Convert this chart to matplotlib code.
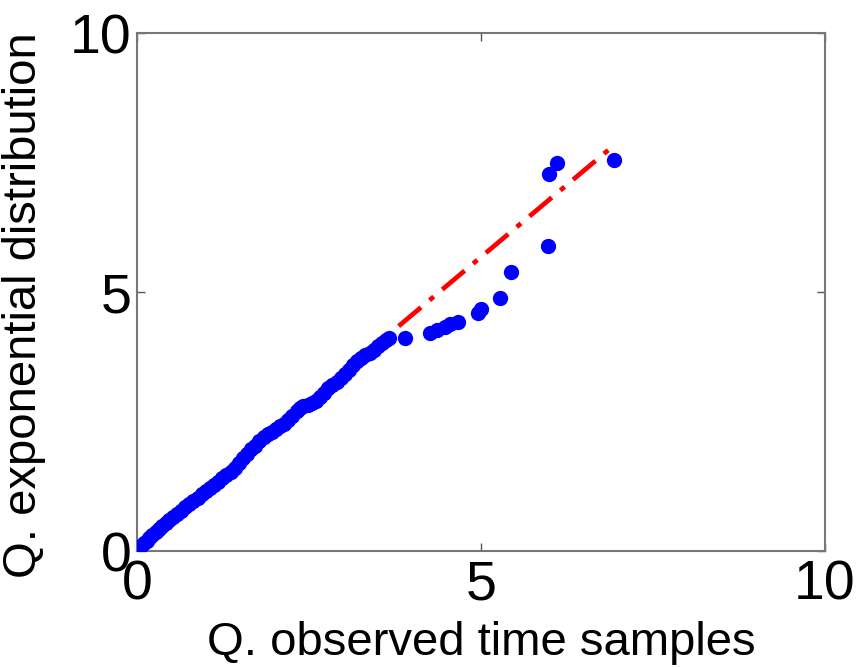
import matplotlib
matplotlib.use("Agg")
import matplotlib.pyplot as plt

# quantiles: observed (x) vs exponential (y)
obs_q = [0.00, 0.03, 0.06, 0.10, 0.14, 0.18, 0.22, 0.27, 0.32, 0.37, 0.42, 0.47,
         0.52, 0.58, 0.64, 0.70, 0.76, 0.82, 0.88, 0.94, 1.00, 1.06, 1.12, 1.18,
         1.24, 1.30, 1.36, 1.42, 1.48, 1.54, 1.60, 1.66, 1.72, 1.78, 1.84, 1.90,
         1.96, 2.02, 2.08, 2.14, 2.20, 2.26, 2.32, 2.37, 2.42, 2.48, 2.54, 2.60,
         2.66, 2.72, 2.78, 2.84, 2.90, 2.96, 3.02, 3.08, 3.14, 3.20, 3.26, 3.32,
         3.38, 3.44, 3.50, 3.56, 3.62, 3.67, 3.90, 4.26, 4.36, 4.48, 4.55, 4.67,
         4.96, 5.00, 5.28, 5.44, 5.98, 5.99, 6.10, 6.94]
exp_q = [0.02, 0.06, 0.10, 0.15, 0.20, 0.25, 0.30, 0.36, 0.42, 0.48, 0.54, 0.60,
         0.65, 0.71, 0.78, 0.84, 0.91, 0.97, 1.03, 1.10, 1.16, 1.22, 1.28, 1.34,
         1.40, 1.46, 1.53, 1.60, 1.69, 1.79, 1.88, 1.96, 2.03, 2.12, 2.20, 2.25,
         2.30, 2.35, 2.41, 2.46, 2.53, 2.61, 2.70, 2.76, 2.79, 2.82, 2.85, 2.89,
         2.97, 3.06, 3.14, 3.20, 3.27, 3.34, 3.41, 3.50, 3.59, 3.66, 3.72, 3.78,
         3.83, 3.89, 3.96, 4.02, 4.08, 4.12, 4.11, 4.20, 4.27, 4.33, 4.38, 4.43,
         4.60, 4.68, 4.89, 5.39, 5.89, 7.28, 7.50, 7.55]

# reference line end points
ref_x = [0.0, 6.94]
ref_y = [0.10, 7.84]

ticks = [0, 5, 10]

plt.rcParams['font.family'] = ['Liberation Sans', 'DejaVu Sans']
plt.rcParams['lines.scale_dashes'] = False

fig = plt.figure(figsize=(8.59, 6.67), dpi=100)
ax = fig.add_axes([0.1595, 0.1739, 0.8009, 0.7766])

ax.plot(ref_x, ref_y, color='#ff0000', lw=3.4, dashes=(21, 8, 4, 8), zorder=2)
ax.plot(obs_q, exp_q, 'o', color='#0000ff', ms=10, mec='#0000ff', zorder=3)

ax.set_xlim(0, 10)
ax.set_ylim(0, 10)
ax.set_xticks(ticks)
ax.set_yticks(ticks)
ax.tick_params(direction='in', length=6, width=1, colors='#555555',
               labelcolor='black', labelsize=40, top=True, right=True)
ax.tick_params(axis='x', pad=6)
ax.tick_params(axis='y', pad=4)
for s in ax.spines.values():
    s.set_color('#777777')
    s.set_linewidth(1.5)

ax.set_xlabel("Q. observed time samples", fontsize=34, labelpad=7)
ax.set_ylabel("Q. exponential distribution", fontsize=34)
ax.yaxis.set_label_coords(-0.132, 0.475)

fig.savefig("out.png", dpi=100)
